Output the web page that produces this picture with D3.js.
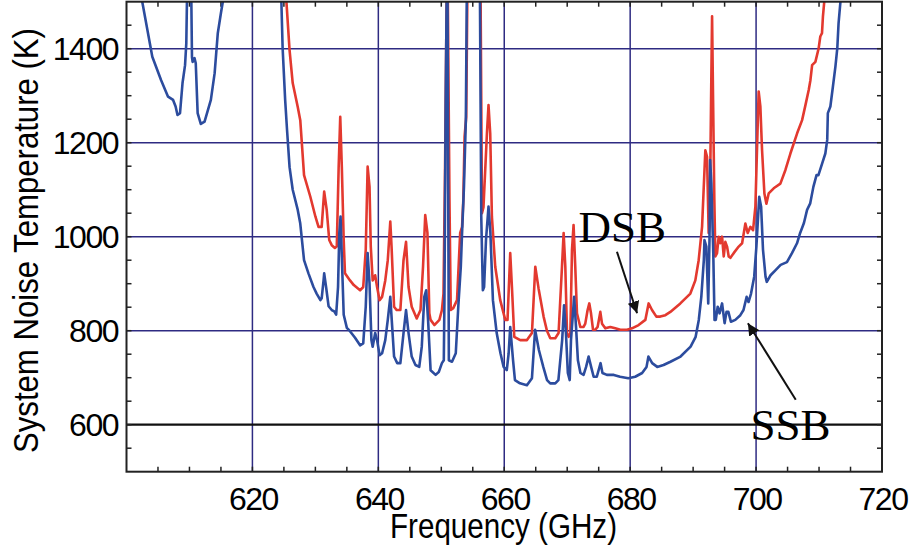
<!DOCTYPE html>
<html>
<head>
<meta charset="utf-8">
<script src="https://cdn.jsdelivr.net/npm/d3@7"></script>
<style>
  body { margin: 0; background: #fff; }
  svg { display: block; }
  .lbl { font-family: "Liberation Sans", Arial, sans-serif; font-size: 32px; letter-spacing: -1.5px; fill: #000; }
  .title { font-family: "Liberation Sans", Arial, sans-serif; font-size: 35px; fill: #000; }
  .note { font-family: "Liberation Serif", "Times New Roman", serif; font-size: 45px; fill: #000; }
</style>
</head>
<body>
<div id="chart"></div>
<script>
// tick values
var xTicks = [620, 640, 660, 680, 700, 720];
var yTicks = [600, 800, 1000, 1200, 1400];

// SSB noise temperature, [GHz, K] (values above 1500 are off the plot)
var ssb = [[602.5,1500],[604.1,1383],[605.5,1333],[606.6,1298],[607.4,1291],[607.8,1277],[608.1,1259],[608.5,1263],
  [608.9,1327],[609.3,1365],[609.5,1412],[609.6,1500],[609.95,1600],[610.3,1500],[610.4,1382],[610.5,1372],[610.8,1380],
  [611.0,1369],[611.3,1263],[611.8,1240],[612.4,1245],[613.4,1291],[614.0,1348],[614.5,1433],[615.0,1476],[615.3,1500],
  [615.6,1600],[624.4,1600],[624.6,1500],[624.8,1401],[625.2,1291],[625.5,1227],[625.9,1148],[626.4,1100],[627.2,1057],
  [627.6,1028],[628.2,950],[628.9,922],[629.7,893],[630.2,879],[630.8,865],[631.0,869],[631.3,907],[631.4,922],[631.7,893],
  [632.1,852],[632.6,844],[633.0,841],[633.3,834],[633.6,893],[633.8,1007],[634.0,1043],[634.2,957],[634.5,834],[635.0,806],
  [635.5,799],[636.3,785],[637.1,769],[637.6,773],[638.0,851],[638.3,965],[638.6,901],[638.9,780],[639.1,766],[639.5,795],
  [639.8,780],[640.2,748],[640.6,752],[641.1,780],[641.5,823],[641.9,872],[642.2,808],[642.5,745],[643.0,731],[643.5,731],
  [644.0,795],[644.4,844],[644.8,795],[645.3,745],[645.9,727],[646.5,723],[646.9,766],[647.3,872],[647.6,886],[647.9,823],
  [648.3,716],[649.1,706],[649.6,712],[650.1,731],[650.4,737],[650.5,865],[650.7,1291],[650.95,1650],[651.2,737],[651.7,734],
  [652.3,752],[652.7,851],[653.1,936],[653.3,1008],[653.6,1106],[653.9,1248],[654.1,1600],[656.1,1600],[656.35,1042],
  [656.6,886],[656.8,893],[657.1,993],[657.5,1064],[657.8,1008],[658.2,865],[658.8,795],[659.4,752],[659.9,723],[660.4,716],
  [660.7,752],[660.95,808],[661.4,737],[661.7,695],[662.5,688],[663.6,684],[664.4,699],[664.9,802],[665.5,759],[666.2,723],
  [666.8,695],[667.3,688],[668.1,688],[668.6,695],[669.2,780],[669.5,854],[669.8,795],[670.1,710],[670.4,695],[670.6,780],
  [671.1,872],[671.4,808],[671.7,737],[672.1,710],[672.6,706],[673.0,723],[673.4,745],[673.8,723],[674.2,702],[674.7,702],
  [675.3,731],[675.6,710],[676.3,706],[677.4,706],[678.4,702],[679.7,699],[680.8,702],[681.9,710],[682.6,723],[682.9,745],
  [683.5,731],[684.3,723],[685.3,727],[686.4,734],[688.0,745],[689.6,766],[690.4,787],[690.9,823],[691.3,872],[691.7,950],
  [691.8,993],[692.1,979],[692.4,858],[692.6,993],[692.7,1163],[692.9,1113],[693.2,965],[693.4,823],[693.6,823],[693.9,851],
  [694.2,837],[694.6,858],[695.0,816],[695.3,840],[695.6,840],[696.0,819],[696.7,823],[697.5,833],[698.0,844],[698.5,872],
  [698.8,861],[699.2,879],[699.7,915],[700.05,979],[700.5,1085],[700.8,1064],[701.1,972],[701.5,915],[701.7,904],[702.3,918],
  [703.1,929],[703.9,940],[704.9,946],[705.7,965],[706.5,986],[707.0,1008],[707.6,1029],[708.1,1057],[708.6,1071],[709.1,1106],
  [709.6,1131],[709.9,1131],[710.5,1156],[711.0,1177],[711.3,1206],[711.4,1263],[711.8,1277],[712.2,1319],[712.6,1362],
  [712.9,1401],[713.1,1454],[713.4,1500],[713.6,1600]];

// DSB noise temperature, [GHz, K]
var dsb = [[625.4,1500],[625.9,1397],[626.4,1327],[627.2,1276],[627.6,1248],[628.2,1131],[629.2,1085],[630.0,1043],
  [630.5,1021],[631.0,1021],[631.3,1078],[631.4,1096],[631.8,1057],[632.2,993],[632.6,982],[633.1,976],[633.4,979],
  [633.7,1149],[633.95,1255],[634.2,1149],[634.5,993],[634.7,922],[635.5,907],[636.1,897],[637.1,886],[637.6,893],
  [638.0,972],[638.3,1149],[638.6,1106],[638.8,979],[639.1,907],[639.5,918],[639.8,893],[640.2,865],[640.6,872],[641.1,907],
  [641.5,950],[641.9,1032],[642.1,979],[642.5,851],[642.9,844],[643.5,844],[644.0,950],[644.4,989],[644.8,893],[645.3,851],
  [646.1,826],[646.7,844],[647.1,936],[647.45,1046],[647.8,1008],[648.1,837],[648.3,823],[648.9,812],[649.7,823],[650.1,844],
  [650.35,879],[650.6,1148],[650.95,1650],[651.3,1078],[651.5,844],[651.9,848],[652.5,865],[653.0,1008],[653.3,1021],
  [653.5,1078],[653.7,1213],[653.96,1255],[654.2,1600],[656.2,1600],[656.46,1050],[656.7,1063],[657.25,1220],[657.5,1280],
  [657.77,1220],[658.04,1042],[658.57,936],[659.36,865],[660.16,823],[660.52,823],[660.95,965],[661.22,893],[661.59,787],
  [662.54,780],[663.61,780],[664.4,795],[664.93,936],[665.45,890],[666.25,830],[666.78,800],[667.31,784],[668.1,784],
  [668.63,795],[669.17,936],[669.43,1008],[669.7,936],[669.97,795],[670.23,787],[670.5,795],[670.76,972],[671.01,1025],
  [671.28,936],[671.55,837],[672.08,808],[672.6,808],[672.87,815],[673.24,844],[673.51,858],[673.78,837],[674.1,802],
  [674.46,802],[674.83,808],[675.26,840],[675.53,815],[676.05,805],[676.85,808],[677.64,805],[678.44,802],[679.5,802],
  [680.29,805],[681.34,812],[682.41,823],[682.93,858],[683.47,844],[684.16,830],[684.79,830],[685.59,833],[686.38,840],
  [687.97,858],[689.56,879],[690.35,907],[690.88,950],[691.42,1021],[691.67,1100],[691.94,1184],[692.21,1170],[692.47,1008],
  [692.63,1021],[692.85,1291],[693.01,1469],[693.17,1291],[693.37,1078],[693.53,958],[693.8,965],[694.06,1000],[694.33,986],
  [694.6,1000],[694.86,958],[695.12,989],[695.39,979],[695.65,958],[695.92,955],[696.44,965],[697.24,979],[697.78,986],
  [698.3,1028],[698.67,1008],[699.1,1021],[699.52,1014],[699.89,1064],[700.16,1192],[700.41,1309],[700.68,1277],[700.95,1184],
  [701.32,1092],[701.64,1070],[702.0,1092],[702.8,1103],[703.86,1113],[704.66,1142],[705.45,1177],[706.52,1220],[707.31,1248],
  [707.84,1280],[708.36,1312],[708.63,1333],[708.9,1365],[709.42,1372],[709.94,1401],[710.2,1426],[710.47,1433],[710.62,1469],
  [710.83,1500],[711.0,1600]];

var width = 912,
    height = 552;

var x = d3.scaleLinear().domain([600, 720]).range([126.5, 882]);
var y = d3.scaleLinear().domain([500, 1500]).range([471.7, 1.7]);

var svg = d3.select('#chart').append('svg')
    .attr('width', width)
    .attr('height', height);

var defs = svg.append('defs');
defs.append('clipPath').attr('id', 'plot')
    .append('rect')
    .attr('x', x(600)).attr('y', y(1500))
    .attr('width', x(720) - x(600)).attr('height', y(500) - y(1500));
defs.append('marker').attr('id', 'arrow')
    .attr('viewBox', '0 0 10 10')
    .attr('refX', 10).attr('refY', 5)
    .attr('markerWidth', 6).attr('markerHeight', 6)
    .attr('markerUnits', 'strokeWidth')
    .attr('orient', 'auto')
    .append('path').attr('d', 'M0,0L10,5L0,10z').attr('fill', '#111');

// grid
var grid = svg.append('g');
grid.selectAll('.vg').data(xTicks.filter(function (d) { return d < 720; }))
    .enter().append('line')
    .attr('x1', function (d) { return x(d); }).attr('x2', function (d) { return x(d); })
    .attr('y1', y(1500)).attr('y2', y(500))
    .attr('stroke', '#2e2b82').attr('stroke-width', 1.5);
grid.selectAll('.hg').data(yTicks)
    .enter().append('line')
    .attr('x1', x(600)).attr('x2', x(720))
    .attr('y1', function (d) { return y(d); }).attr('y2', function (d) { return y(d); })
    .attr('stroke', function (d) { return d === 600 ? '#111' : '#2e2b82'; })
    .attr('stroke-width', function (d) { return d === 600 ? 2.2 : 1.5; });

// minor ticks on all four sides
var xMinor = d3.range(605, 720, 5),
    yMinor = d3.range(550, 1500, 50);
var ticks = svg.append('g').attr('stroke', '#222').attr('stroke-width', 1.5);
ticks.selectAll('.xb').data(xMinor).enter().append('line')
    .attr('x1', function (d) { return x(d); }).attr('x2', function (d) { return x(d); })
    .attr('y1', y(500)).attr('y2', y(500) - 5);
ticks.selectAll('.xt').data(xMinor).enter().append('line')
    .attr('x1', function (d) { return x(d); }).attr('x2', function (d) { return x(d); })
    .attr('y1', y(1500)).attr('y2', y(1500) + 5);
ticks.selectAll('.yl').data(yMinor).enter().append('line')
    .attr('x1', x(600)).attr('x2', x(600) + 5)
    .attr('y1', function (d) { return y(d); }).attr('y2', function (d) { return y(d); });
ticks.selectAll('.yr').data(yMinor).enter().append('line')
    .attr('x1', x(720)).attr('x2', x(720) - 5)
    .attr('y1', function (d) { return y(d); }).attr('y2', function (d) { return y(d); });

// curves
var line = d3.line()
    .x(function (d) { return x(d[0]); })
    .y(function (d) { return y(d[1]); });

var curves = svg.append('g').attr('clip-path', 'url(#plot)');
curves.append('path').datum(dsb)
    .attr('d', line)
    .attr('fill', 'none').attr('stroke', '#e3392f')
    .attr('stroke-width', 2.6).attr('stroke-linejoin', 'round');
curves.append('path').datum(ssb)
    .attr('d', line)
    .attr('fill', 'none').attr('stroke', '#2c4c9e')
    .attr('stroke-width', 2.6).attr('stroke-linejoin', 'round');

// frame
svg.append('rect')
    .attr('x', x(600)).attr('y', y(1500))
    .attr('width', x(720) - x(600)).attr('height', y(500) - y(1500))
    .attr('fill', 'none').attr('stroke', '#222').attr('stroke-width', 2);

// tick labels
svg.selectAll('.xl').data(xTicks).enter().append('text')
    .attr('class', 'lbl')
    .attr('x', function (d) { return x(d) + 1; })
    .attr('y', 510)
    .attr('text-anchor', 'middle')
    .text(function (d) { return d; });
svg.selectAll('.yl').data(yTicks).enter().append('text')
    .attr('class', 'lbl')
    .attr('x', 118)
    .attr('y', function (d) { return y(d) + 11.5; })
    .attr('text-anchor', 'end')
    .text(function (d) { return d; });

// axis titles
svg.append('text')
    .attr('class', 'title')
    .attr('x', 503.5).attr('y', 538)
    .attr('text-anchor', 'middle')
    .attr('textLength', 227).attr('lengthAdjust', 'spacingAndGlyphs')
    .text('Frequency (GHz)');
svg.append('text')
    .attr('class', 'title')
    .attr('transform', 'translate(37.5,240.5) rotate(-90)')
    .attr('text-anchor', 'middle')
    .attr('textLength', 425).attr('lengthAdjust', 'spacingAndGlyphs')
    .text('System Noise Temperature (K)');

// annotations
var notes = [
    { label: 'DSB', at: [671.8, 989], from: [677.9, 968], to: [681.1, 837] },
    { label: 'SSB', at: [699.1, 567], from: [706.3, 653], to: [698.7, 816] }
];
notes.forEach(function (n) {
    svg.append('text').attr('class', 'note')
        .attr('x', x(n.at[0])).attr('y', y(n.at[1]))
        .text(n.label);
    svg.append('line')
        .attr('x1', x(n.from[0])).attr('y1', y(n.from[1]))
        .attr('x2', x(n.to[0])).attr('y2', y(n.to[1]))
        .attr('stroke', '#111').attr('stroke-width', 2)
        .attr('marker-end', 'url(#arrow)');
});
</script>
</body>
</html>
